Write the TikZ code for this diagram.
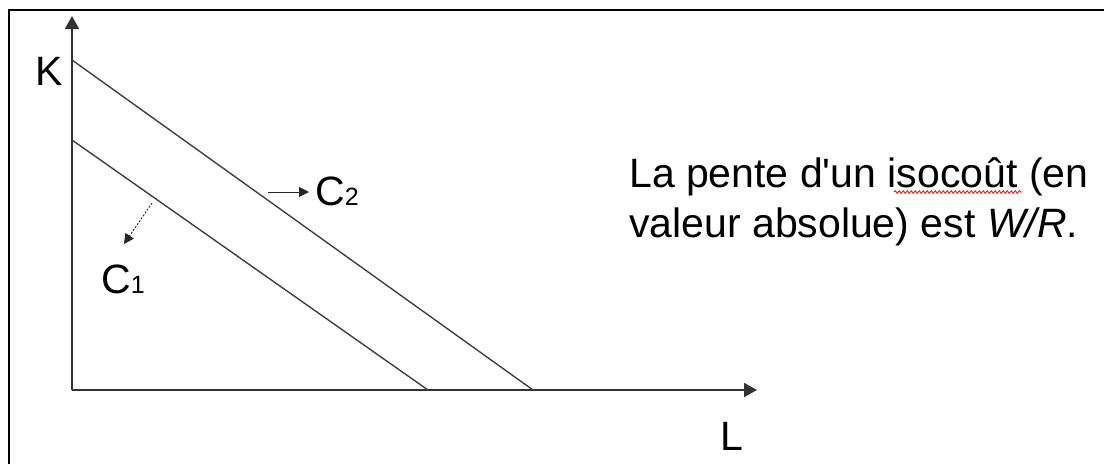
\documentclass[tikz,border=0pt]{standalone}
\usepackage{fontspec}
\setmainfont{Liberation Sans}
\newfontfamily\rawfont{Liberation Sans}
\usetikzlibrary{arrows.meta,decorations.pathmorphing}
\begin{document}
\begin{tikzpicture}[x=1pt,y=-1pt,
  axis/.style={line width=2pt,draw=black!80,-{Triangle[length=13pt,width=14pt]}},
  isocost/.style={line width=1.4pt,draw=black!75},
  shiftarrow/.style={line width=1pt,draw=black!85,-{Triangle[length=10pt,width=10pt]}},
  lbl/.style={inner sep=0pt,anchor=base west,font=\fontsize{41}{50}\selectfont},
  frameline/.style={line width=2.6pt,draw=black}]
\useasboundingbox (0,0) rectangle (1104,464);
% frame (top and left only visible)
\draw[frameline] (9,464) -- (9,10) -- (1104,10);
% axes
\coordinate (O) at (72,390);
\coordinate (ytip) at (72,16);
\coordinate (xtip) at (757,390);
\draw[axis] (O) -- (ytip);
\draw[axis] (O) -- (xtip);
% isocost lines
\coordinate (c2k) at (72,60);
\coordinate (c2l) at (533,390);
\coordinate (c1k) at (72,140);
\coordinate (c1l) at (428,390);
\draw[isocost] (c2k) -- (c2l);
\draw[isocost] (c1k) -- (c1l);
% shift arrows
\coordinate (a2s) at (268,192);
\coordinate (a2e) at (309,192);
\draw[shiftarrow] (a2s) -- (a2e);
\coordinate (a1s) at (152,203);
\coordinate (a1e) at (124,244);
\draw[shiftarrow,dash pattern=on 2pt off 1.5pt,line width=0.9pt] (a1s) -- (a1e);
% labels
\node[lbl] (K) at (35,85) {K};
\node[lbl] (L) at (720,450) {L};
\node[lbl] (C2) at (315,205) {C\fontsize{25}{25}\selectfont 2};
\node[lbl] (C1) at (101,293) {C\fontsize{25}{25}\selectfont 1};
\node[lbl,align=left] (txt) at (629,237) {La pente d{\rawfont\symbol{39}}un isocoût (en\\valeur absolue) est \textit{W/R}.};
% spell-check underline
\coordinate (u1) at (894,192);
\coordinate (u2) at (1022,192);
\draw[red,line width=0.8pt,decorate,decoration={snake,amplitude=1.3pt,segment length=4pt}] (u1) -- (u2);
\end{tikzpicture}
\end{document}
